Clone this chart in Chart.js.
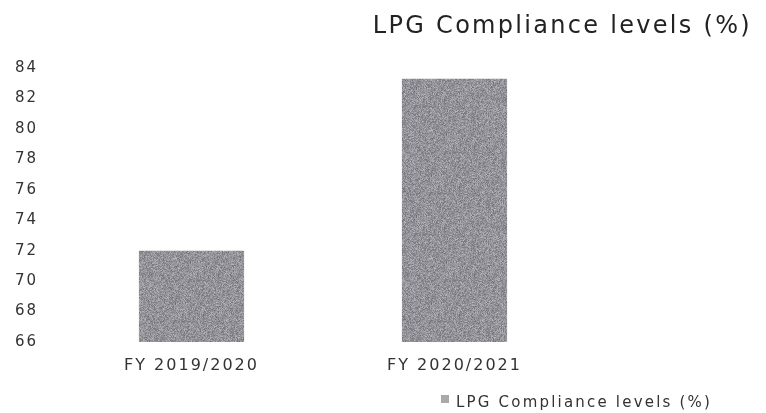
<!DOCTYPE html>
<html>
<head>
<meta charset="utf-8">
<script src="https://cdn.jsdelivr.net/npm/chart.js@4.4.1/dist/chart.umd.min.js"></script>
<style>
  html, body { margin: 0; padding: 0; background: #ffffff; }
  #wrap { width: 766px; height: 413px; position: relative; }
</style>
</head>
<body>
<div id="wrap"><canvas id="chart"></canvas></div>
<script>
// Chart data
const categories = ['FY 2019/2020', 'FY 2020/2021'];
const complianceValues = [72.0, 83.3];
const seriesName = 'LPG Compliance levels (%)';
const chartTitle = 'LPG Compliance levels (%)';
const yMin = 66;
const yMax = 84;
const yStep = 2;

// Fine speckled grey fill for the bars (deterministic hash noise)
function makeGrainPattern(ctx) {
  const size = 128;
  const c = document.createElement('canvas');
  c.width = size; c.height = size;
  const g = c.getContext('2d');
  const img = g.createImageData(size, size);
  let s = 24680;
  const next = () => { s = (s * 1103515245 + 12345) & 0x7fffffff; return s / 0x7fffffff; };
  for (let i = 0; i < size * size; i++) {
    const v = 150 + (next() + next() - 1) * 40;
    img.data[i * 4] = v - 3;
    img.data[i * 4 + 1] = v - 3;
    img.data[i * 4 + 2] = v + 3;
    img.data[i * 4 + 3] = 255;
  }
  g.putImageData(img, 0, 0);
  return ctx.createPattern(c, 'repeat');
}

const FONT = '"DejaVu Sans", Verdana, sans-serif';

// Title and legend drawn as text on the canvas
const decorations = {
  id: 'decorations',
  beforeDraw(chart) {
    chart.ctx.letterSpacing = '2px';
  },
  afterDraw(chart) {
    const ctx = chart.ctx;
    ctx.save();
    ctx.letterSpacing = '2.3px';
    ctx.fillStyle = '#222222';
    ctx.font = '24px ' + FONT;
    ctx.textAlign = 'right';
    ctx.textBaseline = 'alphabetic';
    ctx.fillText(chartTitle, 752, 33);

    ctx.font = '15px ' + FONT;
    ctx.fillStyle = '#333333';
    ctx.textAlign = 'left';
    ctx.letterSpacing = '2.2px';
    ctx.fillText(seriesName, 456, 407);
    ctx.fillStyle = '#a9a9ad';
    ctx.fillRect(441, 395, 8, 8);
    ctx.restore();
  }
};

const ctx = document.getElementById('chart').getContext('2d');
new Chart(ctx, {
  type: 'bar',
  data: {
    labels: categories,
    datasets: [{
      label: seriesName,
      data: complianceValues,
      backgroundColor: makeGrainPattern(ctx),
      borderWidth: 0,
      barPercentage: 0.8,
      categoryPercentage: 0.5
    }]
  },
  options: {
    responsive: true,
    maintainAspectRatio: false,
    animation: false,
    layout: { padding: { top: 68, right: 180, left: 10, bottom: 0 } },
    plugins: {
      legend: { display: false },
      title: { display: false },
      tooltip: { enabled: false }
    },
    scales: {
      x: {
        grid: { display: false, drawTicks: false },
        border: { display: false },
        ticks: {
          color: '#333333',
          font: { family: FONT, size: 16 },
          padding: 14
        },
        afterFit(scale) { scale.height = 71; }
      },
      y: {
        min: yMin,
        max: yMax,
        grid: { display: false, drawTicks: false },
        border: { display: false },
        ticks: {
          stepSize: yStep,
          color: '#333333',
          font: { family: FONT, size: 15 },
          padding: 22
        },
        afterFit(scale) { scale.width = 50; }
      }
    }
  },
  plugins: [decorations]
});
</script>
</body>
</html>
